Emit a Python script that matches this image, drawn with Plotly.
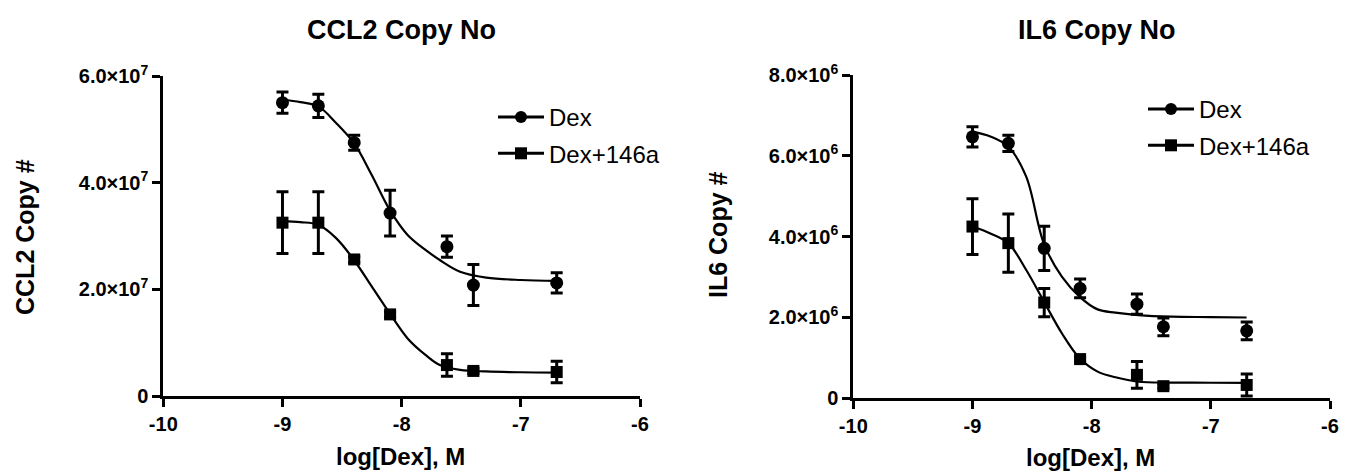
import plotly.graph_objects as go

# ---------------- data ----------------
log_dex = [-9.0, -8.699, -8.398, -8.097, -7.62, -7.398, -6.699]

# CCL2 copy numbers
ccl2_dex = [5.50e7, 5.44e7, 4.75e7, 3.43e7, 2.80e7, 2.08e7, 2.12e7]
ccl2_dex_err = [0.20e7, 0.22e7, 0.14e7, 0.43e7, 0.20e7, 0.385e7, 0.19e7]
ccl2_146a = [3.25e7, 3.25e7, 2.56e7, 1.53e7, 0.58e7, 0.47e7, 0.45e7]
ccl2_146a_err = [0.58e7, 0.58e7, 0.05e7, 0.05e7, 0.21e7, 0.05e7, 0.20e7]

# CCL2 fitted curves
ccl2_fit_x = [-9.0, -8.85, -8.7, -8.55, -8.4, -8.25, -8.1, -7.95, -7.8, -7.68, -7.51, -7.29, -7.0, -6.7]
ccl2_dex_fit = [5.56e7, 5.51e7, 5.43e7, 5.12e7, 4.74e7, 4.14e7, 3.49e7, 3.02e7, 2.74e7, 2.55e7, 2.33e7, 2.22e7, 2.175e7, 2.16e7]
ccl2_146a_fit = [3.28e7, 3.26e7, 3.21e7, 2.96e7, 2.55e7, 2.05e7, 1.55e7, 1.08e7, 0.77e7, 0.58e7, 0.49e7, 0.46e7, 0.445e7, 0.44e7]

# IL6 copy numbers
il6_dex = [6.47e6, 6.31e6, 3.71e6, 2.72e6, 2.33e6, 1.77e6, 1.67e6]
il6_dex_err = [0.25e6, 0.20e6, 0.55e6, 0.23e6, 0.25e6, 0.22e6, 0.22e6]
il6_146a = [4.25e6, 3.84e6, 2.37e6, 0.97e6, 0.58e6, 0.30e6, 0.33e6]
il6_146a_err = [0.69e6, 0.72e6, 0.35e6, 0.05e6, 0.33e6, 0.05e6, 0.27e6]

# IL6 fitted curves
il6_fit_x = [-9.0, -8.85, -8.7, -8.55, -8.4, -8.25, -8.1, -7.95, -7.8, -7.61, -7.33, -7.0, -6.7]
il6_dex_fit = [6.60e6, 6.48e6, 6.23e6, 5.49e6, 3.82e6, 3.01e6, 2.51e6, 2.20e6, 2.12e6, 2.06e6, 2.02e6, 2.01e6, 2.00e6]
il6_146a_fit = [4.25e6, 4.08e6, 3.84e6, 3.18e6, 2.39e6, 1.61e6, 0.99e6, 0.66e6, 0.52e6, 0.41e6, 0.39e6, 0.385e6, 0.38e6]

series_names = ["Dex", "Dex+146a"]
x_ticks = [-10, -9, -8, -7, -6]
x_tick_text = ["-10", "-9", "-8", "-7", "-6"]
ccl2_ticks = [0, 2e7, 4e7, 6e7]
ccl2_tick_text = ["0", "2.0×10<sup>7</sup>", "4.0×10<sup>7</sup>", "6.0×10<sup>7</sup>"]
il6_ticks = [0, 2e6, 4e6, 6e6, 8e6]
il6_tick_text = ["0", "2.0×10<sup>6</sup>", "4.0×10<sup>6</sup>", "6.0×10<sup>6</sup>", "8.0×10<sup>6</sup>"]

titles = ["CCL2 Copy No", "IL6 Copy No"]
y_titles = ["CCL2 Copy #", "IL6 Copy #"]
x_title = "log[Dex], M"

# ---------------- figure ----------------
W, H = 1346, 473
FONT = "Liberation Sans, Arial, sans-serif"
fig = go.Figure()


def fx(px):
    """window x pixel -> paper fraction"""
    return px / W


def fy(py):
    """window y pixel (from top) -> paper fraction"""
    return (H - py) / H


symbols = ["circle", "square"]
msize = [13, 12]


def add_panel(xa, ya, leg, y_pts, y_errs, fit_x, fits):
    for i in range(2):
        # fitted curve
        fig.add_trace(go.Scatter(
            x=fit_x, y=fits[i], mode="lines", xaxis=xa, yaxis=ya,
            line=dict(color="black", width=2.2, shape="spline", smoothing=1.0),
            showlegend=False, hoverinfo="skip", cliponaxis=False))
        # mean +/- error points
        fig.add_trace(go.Scatter(
            x=log_dex, y=y_pts[i], mode="markers", xaxis=xa, yaxis=ya,
            marker=dict(symbol=symbols[i], size=msize[i], color="black"),
            error_y=dict(type="data", array=y_errs[i], color="black", thickness=3, width=6),
            showlegend=False, cliponaxis=False))
        # legend entry (line + marker)
        fig.add_trace(go.Scatter(
            x=[None], y=[None], mode="lines+markers", xaxis=xa, yaxis=ya,
            name=series_names[i], legend=leg, legendgroup=leg + str(i),
            line=dict(color="black", width=3),
            marker=dict(symbol=symbols[i], size=12, color="black")))


add_panel("x", "y", "legend", [ccl2_dex, ccl2_146a], [ccl2_dex_err, ccl2_146a_err],
          ccl2_fit_x, [ccl2_dex_fit, ccl2_146a_fit])
add_panel("x2", "y2", "legend2", [il6_dex, il6_146a], [il6_dex_err, il6_146a_err],
          il6_fit_x, [il6_dex_fit, il6_146a_fit])

# panel pixel geometry (window pixels)
L_x0, L_x1, L_y0, L_y1 = 163.3, 640.0, 76.0, 396.0
R_x0, R_x1, R_y0, R_y1 = 853.3, 1330.0, 75.0, 398.3

axis_common = dict(
    showline=True, linecolor="black", linewidth=3, ticks="outside",
    ticklen=8, tickwidth=3, tickcolor="black", showgrid=False, zeroline=False,
    automargin=False,
    tickfont=dict(family=FONT, size=20, color="black", weight="bold"),
)

leg_common = dict(xanchor="left", yanchor="top",
                  font=dict(family=FONT, size=24, color="black"),
                  bgcolor="rgba(0,0,0,0)", borderwidth=0, tracegroupgap=2, itemwidth=46)

fig.update_layout(
    template="none",
    width=W, height=H, autosize=False,
    margin=dict(l=0, r=0, t=0, b=0, autoexpand=False),
    paper_bgcolor="white", plot_bgcolor="white",
    font=dict(family=FONT, color="black"),
    xaxis=dict(domain=[fx(L_x0), fx(L_x1)], range=[-10, -6], tickvals=x_ticks,
               ticktext=x_tick_text, anchor="y", **axis_common),
    yaxis=dict(domain=[fy(L_y1), fy(L_y0)], range=[0, 6e7], tickvals=ccl2_ticks,
               ticktext=ccl2_tick_text, anchor="x", **axis_common),
    xaxis2=dict(domain=[fx(R_x0), fx(R_x1)], range=[-10, -6], tickvals=x_ticks,
                ticktext=x_tick_text, anchor="y2", **axis_common),
    yaxis2=dict(domain=[fy(R_y1), fy(R_y0)], range=[0, 8e6], tickvals=il6_ticks,
                ticktext=il6_tick_text, anchor="x2", **axis_common),
    legend=dict(x=fx(493), y=fy(95), **leg_common),
    legend2=dict(x=fx(1143), y=fy(87), **leg_common),
)

ann = []
for cx, t in [((L_x0 + L_x1) / 2, titles[0]), (1097, titles[1])]:
    ann.append(dict(x=fx(cx), y=fy(30), xref="paper", yref="paper", text=t,
                    showarrow=False, xanchor="center", yanchor="middle",
                    font=dict(family=FONT, size=27, color="black", weight="bold")))
for cx, cy in [(400, 456), (1090, 457)]:
    ann.append(dict(x=fx(cx), y=fy(cy), xref="paper", yref="paper", text=x_title,
                    showarrow=False, xanchor="center", yanchor="middle",
                    font=dict(family=FONT, size=24, color="black", weight="bold")))
for (cx, cy), t in zip([(25, 237), (718, 235)], y_titles):
    ann.append(dict(x=fx(cx), y=fy(cy), xref="paper", yref="paper", text=t,
                    showarrow=False, xanchor="center", yanchor="middle", textangle=-90,
                    font=dict(family=FONT, size=25, color="black", weight="bold")))
fig.update_layout(annotations=ann)

# remove the default 8 px page margin so the figure fills the window exactly
fig.write_html("out.html", config={"displayModeBar": False},
               post_script="document.body.style.margin='0px';document.body.style.overflow='hidden';")
